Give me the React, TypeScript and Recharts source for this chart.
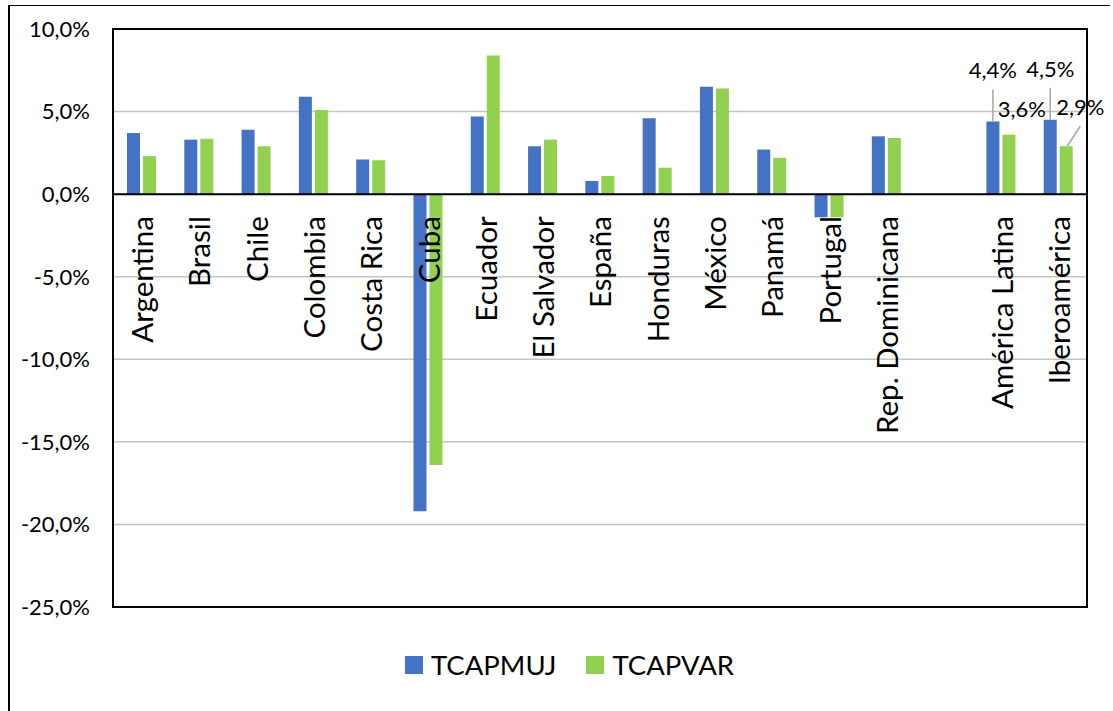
import React from "react";
import {
  ComposedChart,
  Bar,
  Line,
  XAxis,
  YAxis,
  CartesianGrid,
  ReferenceLine,
  ReferenceArea,
  LabelList,
} from "recharts";

const CATEGORIES = [
  "Argentina",
  "Brasil",
  "Chile",
  "Colombia",
  "Costa Rica",
  "Cuba",
  "Ecuador",
  "El Salvador",
  "España",
  "Honduras",
  "México",
  "Panamá",
  "Portugal",
  "Rep. Dominicana",
  "",
  "América Latina",
  "Iberoamérica",
];

const TCAPMUJ = [3.7, 3.3, 3.9, 5.9, 2.1, -19.2, 4.7, 2.9, 0.8, 4.6, 6.5, 2.7, -1.4, 3.5, null, 4.4, 4.5];
const TCAPVAR = [2.3, 3.35, 2.9, 5.1, 2.05, -16.4, 8.4, 3.3, 1.1, 1.6, 6.4, 2.2, -1.4, 3.4, null, 3.6, 2.9];

const Y_TICKS = [-25, -20, -15, -10, -5, 0, 5, 10];

// only the two aggregate groups carry data labels
const LABELLED = ["América Latina", "Iberoamérica"];

const BLUE = "#4472C4";
const GREEN = "#92D050";
const FONT = "Lato, 'Noto Sans', sans-serif";

const data = CATEGORIES.map((name, i) => ({
  name,
  TCAPMUJ: TCAPMUJ[i],
  TCAPVAR: TCAPVAR[i],
}));

const pct = (v: number) => v.toFixed(1).replace(".", ",") + "%";

const MujLabel = (props: any) => {
  const { x, y, width, value } = props;
  if (!LABELLED.includes(value)) return null;
  const v = TCAPMUJ[CATEGORIES.indexOf(value)] as number;
  const cx = x + width / 2;
  return (
    <g>
      <line x1={cx} y1={y - 32} x2={cx} y2={y} stroke="#a6a6a6" strokeWidth={1.5} />
      <text x={cx} y={y - 43} textAnchor="middle" fontSize={22} fontFamily={FONT} fill="#000">
        {pct(v)}
      </text>
    </g>
  );
};

const VAR_OFFSETS: Record<string, { dx: number; dy: number; leader: boolean }> = {
  "América Latina": { dx: 13, dy: -18, leader: false },
  "Iberoamérica": { dx: 14, dy: -31, leader: true },
};

const VarLabel = (props: any) => {
  const { x, y, width, value } = props;
  const o = VAR_OFFSETS[value];
  if (!o) return null;
  const v = TCAPVAR[CATEGORIES.indexOf(value)] as number;
  const cx = x + width / 2;
  return (
    <g>
      {o.leader && (
        <line x1={cx + 1} y1={y} x2={cx + 14} y2={y - 20} stroke="#a6a6a6" strokeWidth={1.5} />
      )}
      <text x={cx + o.dx} y={y + o.dy} textAnchor="middle" fontSize={22} fontFamily={FONT} fill="#000">
        {pct(v)}
      </text>
    </g>
  );
};

// category names hang from the zero line, rotated
const CategoryLabel = (props: any) => {
  const { cx, cy, payload } = props;
  if (cx == null || cy == null) return null;
  return (
    <text
      key={payload.name}
      x={cx}
      y={cy + 22}
      transform={`rotate(-90, ${cx}, ${cy + 22})`}
      textAnchor="end"
      dominantBaseline="central"
      fontSize={29.5}
      fontFamily={FONT}
      fill="#000"
    >
      {payload.name}
    </text>
  );
};

const LegendItem = ({ color, label }: { color: string; label: string }) => (
  <div style={{ display: "flex", alignItems: "center", marginRight: 30 }}>
    <div style={{ width: 18, height: 18, background: color, marginRight: 8 }} />
    <span style={{ fontSize: 27.5, fontFamily: FONT, color: "#000" }}>{label}</span>
  </div>
);

export default function App() {
  return (
    <div
      style={{
        position: "absolute",
        left: 0,
        top: 0,
        width: 1113,
        height: 711,
        background: "#fff",
        overflow: "hidden",
      }}
    >
      <div
        style={{
          position: "absolute",
          left: 8,
          top: 5,
          width: 1100,
          height: 720,
          borderTop: "1.5px solid #000",
          borderLeft: "2px solid #000",
        }}
      />
      <div style={{ position: "absolute", left: 0, top: 0 }}>
        <ComposedChart
          width={1113}
          height={711}
          data={data}
          margin={{ top: 29, right: 26, bottom: 104, left: 0 }}
          barSize={13}
          barGap={3}
        >
          <CartesianGrid vertical={false} stroke="#c4c4c4" strokeWidth={1.5} />
          <XAxis dataKey="name" height={0} tick={false} axisLine={false} tickLine={false} />
          <YAxis
            width={113}
            domain={[-25, 10]}
            ticks={Y_TICKS}
            interval={0}
            axisLine={false}
            tickLine={false}
            tickSize={0}
            tickMargin={23}
            tickFormatter={pct}
            tick={{ fill: "#000", fontSize: 22, fontFamily: FONT }}
          />
          <Bar dataKey="TCAPMUJ" fill={BLUE} isAnimationActive={false}>
            <LabelList dataKey="name" content={<MujLabel />} />
          </Bar>
          <Bar dataKey="TCAPVAR" fill={GREEN} isAnimationActive={false}>
            <LabelList dataKey="name" content={<VarLabel />} />
          </Bar>
          <ReferenceLine y={0} stroke="#000" strokeWidth={2} />
          <ReferenceArea y1={-25} y2={10} fill="none" fillOpacity={0} stroke="#000" strokeWidth={2} />
          <Line
            dataKey={() => 0}
            stroke="none"
            dot={<CategoryLabel />}
            activeDot={false}
            legendType="none"
            isAnimationActive={false}
          />
        </ComposedChart>
      </div>
      <div
        style={{
          position: "absolute",
          left: 405,
          top: 648,
          display: "flex",
          alignItems: "center",
        }}
      >
        <LegendItem color={BLUE} label="TCAPMUJ" />
        <LegendItem color={GREEN} label="TCAPVAR" />
      </div>
    </div>
  );
}
